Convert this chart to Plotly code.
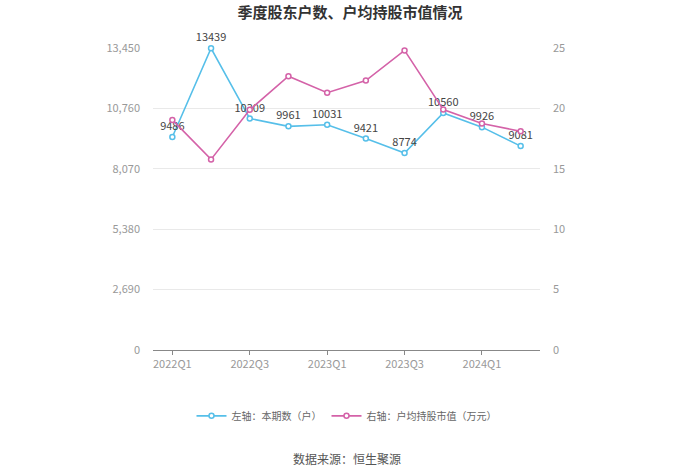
import plotly.graph_objects as go

categories = ["2022Q1", "2022Q2", "2022Q3", "2022Q4", "2023Q1", "2023Q2", "2023Q3", "2023Q4", "2024Q1", "2024Q2"]
holders = [9486, 13439, 10309, 9961, 10031, 9421, 8774, 10560, 9926, 9081]
avg_value = [19.05, 15.78, 19.88, 22.67, 21.3, 22.3, 24.8, 19.9, 18.75, 18.1]
left_ticks = [0, 2690, 5380, 8070, 10760, 13450]
left_ticktext = ["0", "2,690", "5,380", "8,070", "10,760", "13,450"]
right_ticks = [0, 5, 10, 15, 20, 25]
xtick_labels = ["2022Q1", "2022Q3", "2023Q1", "2023Q3", "2024Q1"]

FONT = "Noto Sans CJK SC, Noto Sans, sans-serif"
BLUE = "#56bfe9"
PINK = "#d462a8"

fig = go.Figure()
fig.add_trace(go.Scatter(
    x=categories, y=avg_value, name="右轴：户均持股市值（万元）", yaxis="y2",
    mode="lines+markers",
    line=dict(color=PINK, width=1.6),
    marker=dict(symbol="circle", size=5, color="white", line=dict(color=PINK, width=1.5)),
    cliponaxis=False,
))
fig.add_trace(go.Scatter(
    x=categories, y=holders, name="左轴：本期数（户）",
    mode="lines+markers+text", text=[str(v) for v in holders],
    textposition="top center", textfont=dict(size=11, color="#444", family=FONT),
    line=dict(color=BLUE, width=1.6),
    marker=dict(symbol="circle", size=5, color="white", line=dict(color=BLUE, width=1.5)),
    cliponaxis=False,
))

fig.update_layout(
    width=700, height=474,
    margin=dict(l=153, r=160, t=48, b=124),
    paper_bgcolor="white", plot_bgcolor="white",
    font=dict(family=FONT, size=11, color="#999"),
    title=dict(text="<b>季度股东户数、户均持股市值情况</b>", x=0.5, xanchor="center",
               y=1 - 13 / 474, yanchor="middle", font=dict(size=15, color="#333", family=FONT)),
    xaxis=dict(
        type="category", categoryorder="array", categoryarray=categories,
        tickmode="array", tickvals=xtick_labels, ticktext=xtick_labels,
        showline=True, linecolor="#888", linewidth=1,
        ticks="outside", ticklen=4, tickcolor="#888",
        showgrid=False, tickfont=dict(size=11, color="#999"),
        range=[-0.5, 9.5],
    ),
    yaxis=dict(
        range=[0, 13450], tickmode="array", tickvals=left_ticks, ticktext=left_ticktext,
        showgrid=True, gridcolor="#e9e9e9", gridwidth=1, zeroline=False,
        tickfont=dict(size=11, color="#999"), ticklabelstandoff=12,
    ),
    yaxis2=dict(
        range=[0, 25], tickmode="array", tickvals=right_ticks, overlaying="y", side="right",
        showgrid=False, zeroline=False, tickfont=dict(size=11, color="#999"),
        ticklabelstandoff=12,
    ),
    legend=dict(orientation="h", x=0.5, xanchor="center", y=-0.218, yanchor="middle",
                font=dict(size=10, color="#666"), traceorder="reversed",
                itemwidth=30),
    showlegend=True,
)
fig.add_annotation(text="数据来源：恒生聚源", xref="paper", yref="paper", x=0.5, y=-0.36,
                   yanchor="middle", showarrow=False, font=dict(size=12, color="#555", family=FONT))

fig.write_html("out.html", config={"displayModeBar": False},
               post_script="document.body.style.margin='0';")
